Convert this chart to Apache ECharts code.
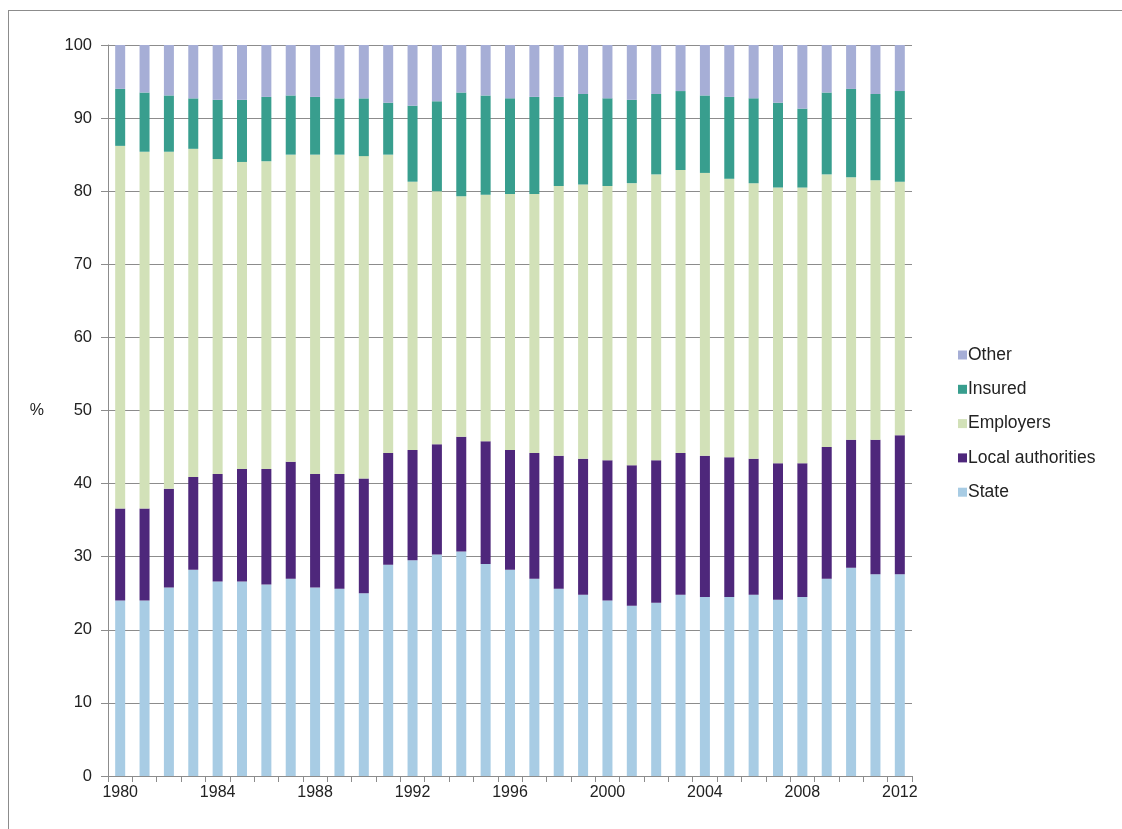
<!DOCTYPE html>
<html>
<head>
<meta charset="utf-8">
<script src="https://cdn.jsdelivr.net/npm/echarts@6/dist/echarts.min.js"></script>
<style>
  html, body { margin: 0; padding: 0; background: #fff; }
  #frame { position: absolute; left: 8px; top: 10px; width: 1114px; height: 819px;
           border-left: 1px solid #8c8c8c; border-top: 1px solid #8c8c8c; box-sizing: border-box; }
  #chart { position: absolute; left: 0; top: 0; width: 1122px; height: 829px; }
</style>
</head>
<body>
<div id="frame"></div>
<div id="chart"></div>
<script>
var years = [];
for (var y = 1980; y <= 2012; y++) years.push(String(y));

var state = [24.0, 24.0, 25.8, 28.2, 26.6, 26.6, 26.2, 27.0, 25.8, 25.6, 25.0, 28.9, 29.5, 30.3, 30.7, 29.0, 28.2,
             27.0, 25.6, 24.8, 24.0, 23.3, 23.7, 24.8, 24.5, 24.5, 24.8, 24.1, 24.5, 27.0, 28.5, 27.6, 27.6];
var localAuthorities = [12.6, 12.6, 13.5, 12.7, 14.7, 15.4, 15.8, 16.0, 15.5, 15.7, 15.7, 15.3, 15.1, 15.1, 15.7, 16.8, 16.4,
             17.2, 18.2, 18.6, 19.2, 19.2, 19.5, 19.4, 19.3, 19.1, 18.6, 18.7, 18.3, 18.0, 17.5, 18.4, 19.0];
var employers = [49.6, 48.8, 46.1, 44.9, 43.1, 42.0, 42.1, 42.0, 43.7, 43.7, 44.1, 40.8, 36.7, 34.6, 32.9, 33.7, 35.0,
             35.4, 36.9, 37.5, 37.5, 38.6, 39.1, 38.7, 38.7, 38.1, 37.7, 37.7, 37.7, 37.3, 35.9, 35.5, 34.7];
var insured = [7.8, 8.1, 7.7, 6.9, 8.1, 8.5, 8.8, 8.1, 7.9, 7.7, 7.9, 7.1, 10.4, 12.3, 14.2, 13.6, 13.1,
             13.3, 12.2, 12.4, 12.0, 11.4, 11.0, 10.8, 10.6, 11.2, 11.6, 11.6, 10.8, 11.2, 12.1, 11.8, 12.4];
var other = [6.0, 6.5, 6.9, 7.3, 7.5, 7.5, 7.1, 6.9, 7.1, 7.3, 7.3, 7.9, 8.3, 7.7, 6.5, 6.9, 7.3,
             7.1, 7.1, 6.7, 7.3, 7.5, 6.7, 6.3, 6.9, 7.1, 7.3, 7.9, 8.7, 6.5, 6.0, 6.7, 6.3];

var font = 'Liberation Sans, Arial, sans-serif';
var chart = echarts.init(document.getElementById('chart'));

function bar(name, data, color) {
    return {
        name: name,
        type: 'bar',
        stack: 'total',
        barWidth: 10,
        itemStyle: { color: color },
        data: data
    };
}

var option = {
    animation: false,
    textStyle: { fontFamily: font },
    grid: { left: 108, right: 210, top: 45, bottom: 53 },
    legend: {
        orient: 'vertical',
        left: 953,
        top: 341,
        itemWidth: 9,
        itemHeight: 9,
        itemGap: 16.3,
        icon: 'rect',
        textStyle: { fontSize: 17.5, color: '#222', fontFamily: font, padding: [0, 0, 0, -4] },
        data: ['Other', 'Insured', 'Employers', 'Local authorities', 'State']
    },
    xAxis: {
        type: 'category',
        data: years,
        axisLine: { lineStyle: { color: '#8c8c8c' } },
        axisTick: { show: true, interval: 0, length: 6, lineStyle: { color: '#8c8c8c' } },
        axisLabel: { interval: 3, fontSize: 16, color: '#222', margin: 9 }
    },
    yAxis: {
        type: 'value',
        min: 0,
        max: 100,
        interval: 10,
        name: '%',
        nameLocation: 'middle',
        nameRotate: 0,
        nameGap: 64,
        nameTextStyle: { fontSize: 16, color: '#222' },
        axisLine: { show: true, lineStyle: { color: '#8c8c8c' } },
        axisTick: { show: true, length: 7, lineStyle: { color: '#8c8c8c' } },
        axisLabel: { fontSize: 16.5, color: '#222', margin: 16 },
        splitLine: { lineStyle: { color: '#8c8c8c', width: 1 } }
    },
    series: [
        bar('State', state, '#a8cce4'),
        bar('Local authorities', localAuthorities, '#4e277b'),
        bar('Employers', employers, '#d2e1b8'),
        bar('Insured', insured, '#389e8e'),
        bar('Other', other, '#a6aed6')
    ]
};

chart.setOption(option);
</script>
</body>
</html>
